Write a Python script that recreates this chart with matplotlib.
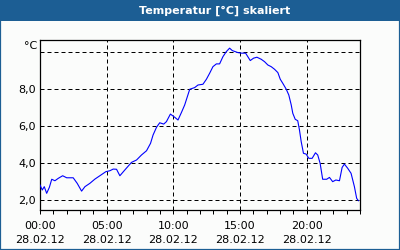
"""Temperature chart (scaled) for 28.02.12, recreated with matplotlib."""

import matplotlib
matplotlib.use("Agg")
import matplotlib.pyplot as plt
from matplotlib.patches import Rectangle

# --- data ---
HOURS = [0.00, 0.17, 0.32, 0.50, 0.70, 0.88, 1.12, 1.37, 1.70, 2.00,
         2.49, 2.79, 3.12, 3.37, 3.74, 4.12, 4.49, 4.94, 5.24, 5.49,
         5.74, 5.99, 6.36, 6.86, 7.24, 7.61, 7.99, 8.29, 8.48, 8.74,
         8.98, 9.28, 9.48, 9.78, 10.10, 10.35, 10.61, 10.85, 11.23, 11.60,
         11.85, 12.22, 12.48, 12.72, 12.97, 13.23, 13.47, 13.72, 13.97, 14.22,
         14.42, 14.84, 15.10, 15.42, 15.77, 16.02, 16.27, 16.59, 16.84, 17.09,
         17.34, 17.59, 17.84, 18.02, 18.21, 18.47, 18.66, 18.84, 18.96, 19.14,
         19.33, 19.46, 19.59, 19.76, 19.96, 20.16, 20.41, 20.66, 20.83, 21.01,
         21.20, 21.50, 21.71, 21.95, 22.19, 22.46, 22.66, 22.83, 23.08, 23.33,
         23.58, 23.75, 23.88]
TEMPS = [2.83, 2.56, 2.74, 2.38, 2.70, 3.14, 3.06, 3.19, 3.33, 3.22,
         3.22, 2.92, 2.50, 2.74, 2.92, 3.15, 3.33, 3.55, 3.60, 3.69,
         3.68, 3.33, 3.64, 4.05, 4.18, 4.45, 4.68, 5.08, 5.53, 5.95,
         6.19, 6.12, 6.25, 6.66, 6.49, 6.34, 6.75, 7.15, 8.00, 8.09,
         8.23, 8.27, 8.54, 8.86, 9.22, 9.37, 9.37, 9.76, 10.03, 10.22,
         10.09, 9.98, 9.95, 9.95, 9.55, 9.68, 9.73, 9.62, 9.49, 9.31,
         9.22, 9.08, 8.90, 8.54, 8.32, 8.00, 7.69, 7.16, 6.70, 6.38,
         6.30, 5.80, 5.17, 4.54, 4.50, 4.27, 4.27, 4.57, 4.45, 4.00,
         3.14, 3.14, 3.24, 3.01, 3.10, 3.06, 3.78, 3.96, 3.73, 3.46,
         2.74, 2.11, 1.98]

X_TICKS = [0, 5, 10, 15, 20]
X_LABELS = ["00:00\n28.02.12", "05:00\n28.02.12", "10:00\n28.02.12",
            "15:00\n28.02.12", "20:00\n28.02.12"]
Y_TICKS = [2, 4, 6, 8, 10]
Y_LABELS = ["2,0", "4,0", "6,0", "8,0", ""]
TITLE = "Temperatur [°C] skaliert"

# --- style ---
FRAME_BLUE = "#1c5e94"
BG = "#fbfcfb"
LINE_BLUE = "#0000ff"
FONT = 8

plt.rcParams["font.family"] = ["DejaVu Sans"]

fig = plt.figure(figsize=(4, 2.5), dpi=100, facecolor=BG)

# title bar and outer frame
fig.patches.append(Rectangle((0, 1 - 21 / 250), 1, 21 / 250, transform=fig.transFigure,
                             facecolor=FRAME_BLUE, edgecolor="none", zorder=0))
fig.patches.append(Rectangle((0, 0), 1, 1, transform=fig.transFigure, facecolor="none",
                             edgecolor=FRAME_BLUE, linewidth=1.6, zorder=0))
fig.text(215 / 400, 1 - 11 / 250, TITLE, color="white", fontsize=FONT,
         fontweight="bold", ha="center", va="center")

ax = fig.add_axes([40 / 400, 40 / 250, 320 / 400, 170 / 250])
ax.set_facecolor(BG)
ax.plot(HOURS, TEMPS, color=LINE_BLUE, linewidth=0.8, zorder=3)

ax.set_xlim(0, 24)
ax.set_ylim(1.48, 10.66)

ax.set_xticks(X_TICKS)
ax.set_xticklabels(X_LABELS, fontsize=FONT, linespacing=1.45)
ax.set_xticks(range(0, 25), minor=True)
ax.tick_params(axis="x", which="both", direction="out", length=3, width=0.72,
               pad=5, colors="black")
ax.set_yticks(Y_TICKS)
ax.set_yticklabels(Y_LABELS, fontsize=FONT)
ax.tick_params(axis="y", length=0, pad=3)
ax.text(-0.22, 10.34, "°C", fontsize=FONT, ha="right", va="center")

ax.grid(True, which="major", color="black", linewidth=0.72,
        linestyle=(0, (4, 3)))
for s in ax.spines.values():
    s.set_linewidth(0.9)
    s.set_color("black")

fig.savefig("out.png", dpi=100, facecolor=BG)
